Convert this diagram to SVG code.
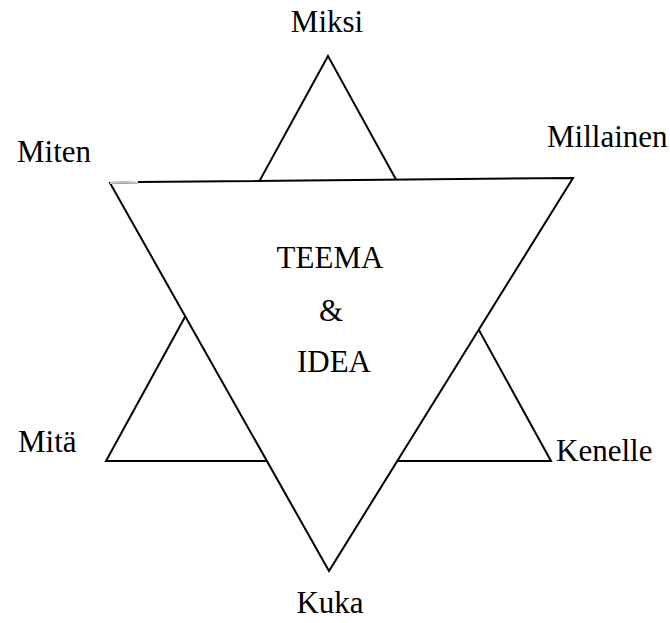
<svg xmlns="http://www.w3.org/2000/svg" width="670" height="623" viewBox="0 0 670 623">
<style>
.t{font-family:"Liberation Serif","Times New Roman",serif;font-size:31px;fill:#000}
.tri{stroke:#000;stroke-width:2;stroke-linejoin:miter}
</style>
<rect width="670" height="623" fill="#fff"/>
<g id="connectors">
<polygon id="up" class="tri" fill="#fff" points="328,56 106,461 551,461"/>
<polygon id="down" class="tri" fill="#fff" points="138,182 573,178 329,571 110,183"/>
<line x1="110" y1="183" x2="138" y2="182" stroke="#fff" stroke-width="2.2"/>
<line x1="110" y1="183" x2="138" y2="183" stroke="#888" stroke-width="1"/>
</g>
<g id="miksi"><text class="t" x="327" y="32" text-anchor="middle">Miksi</text></g>
<g id="miten"><text class="t" x="17" y="162">Miten</text></g>
<g id="millainen"><text class="t" x="547" y="147">Millainen</text></g>
<g id="teema">
<text class="t" x="330" y="268" text-anchor="middle">TEEMA</text>
<text class="t" x="331" y="321" text-anchor="middle">&amp;</text>
<text class="t" x="334" y="372" text-anchor="middle">IDEA</text>
</g>
<g id="mita"><text class="t" x="18" y="452">Mitä</text></g>
<g id="kenelle"><text class="t" x="556" y="461">Kenelle</text></g>
<g id="kuka"><text class="t" x="330" y="613" text-anchor="middle">Kuka</text></g>
</svg>
